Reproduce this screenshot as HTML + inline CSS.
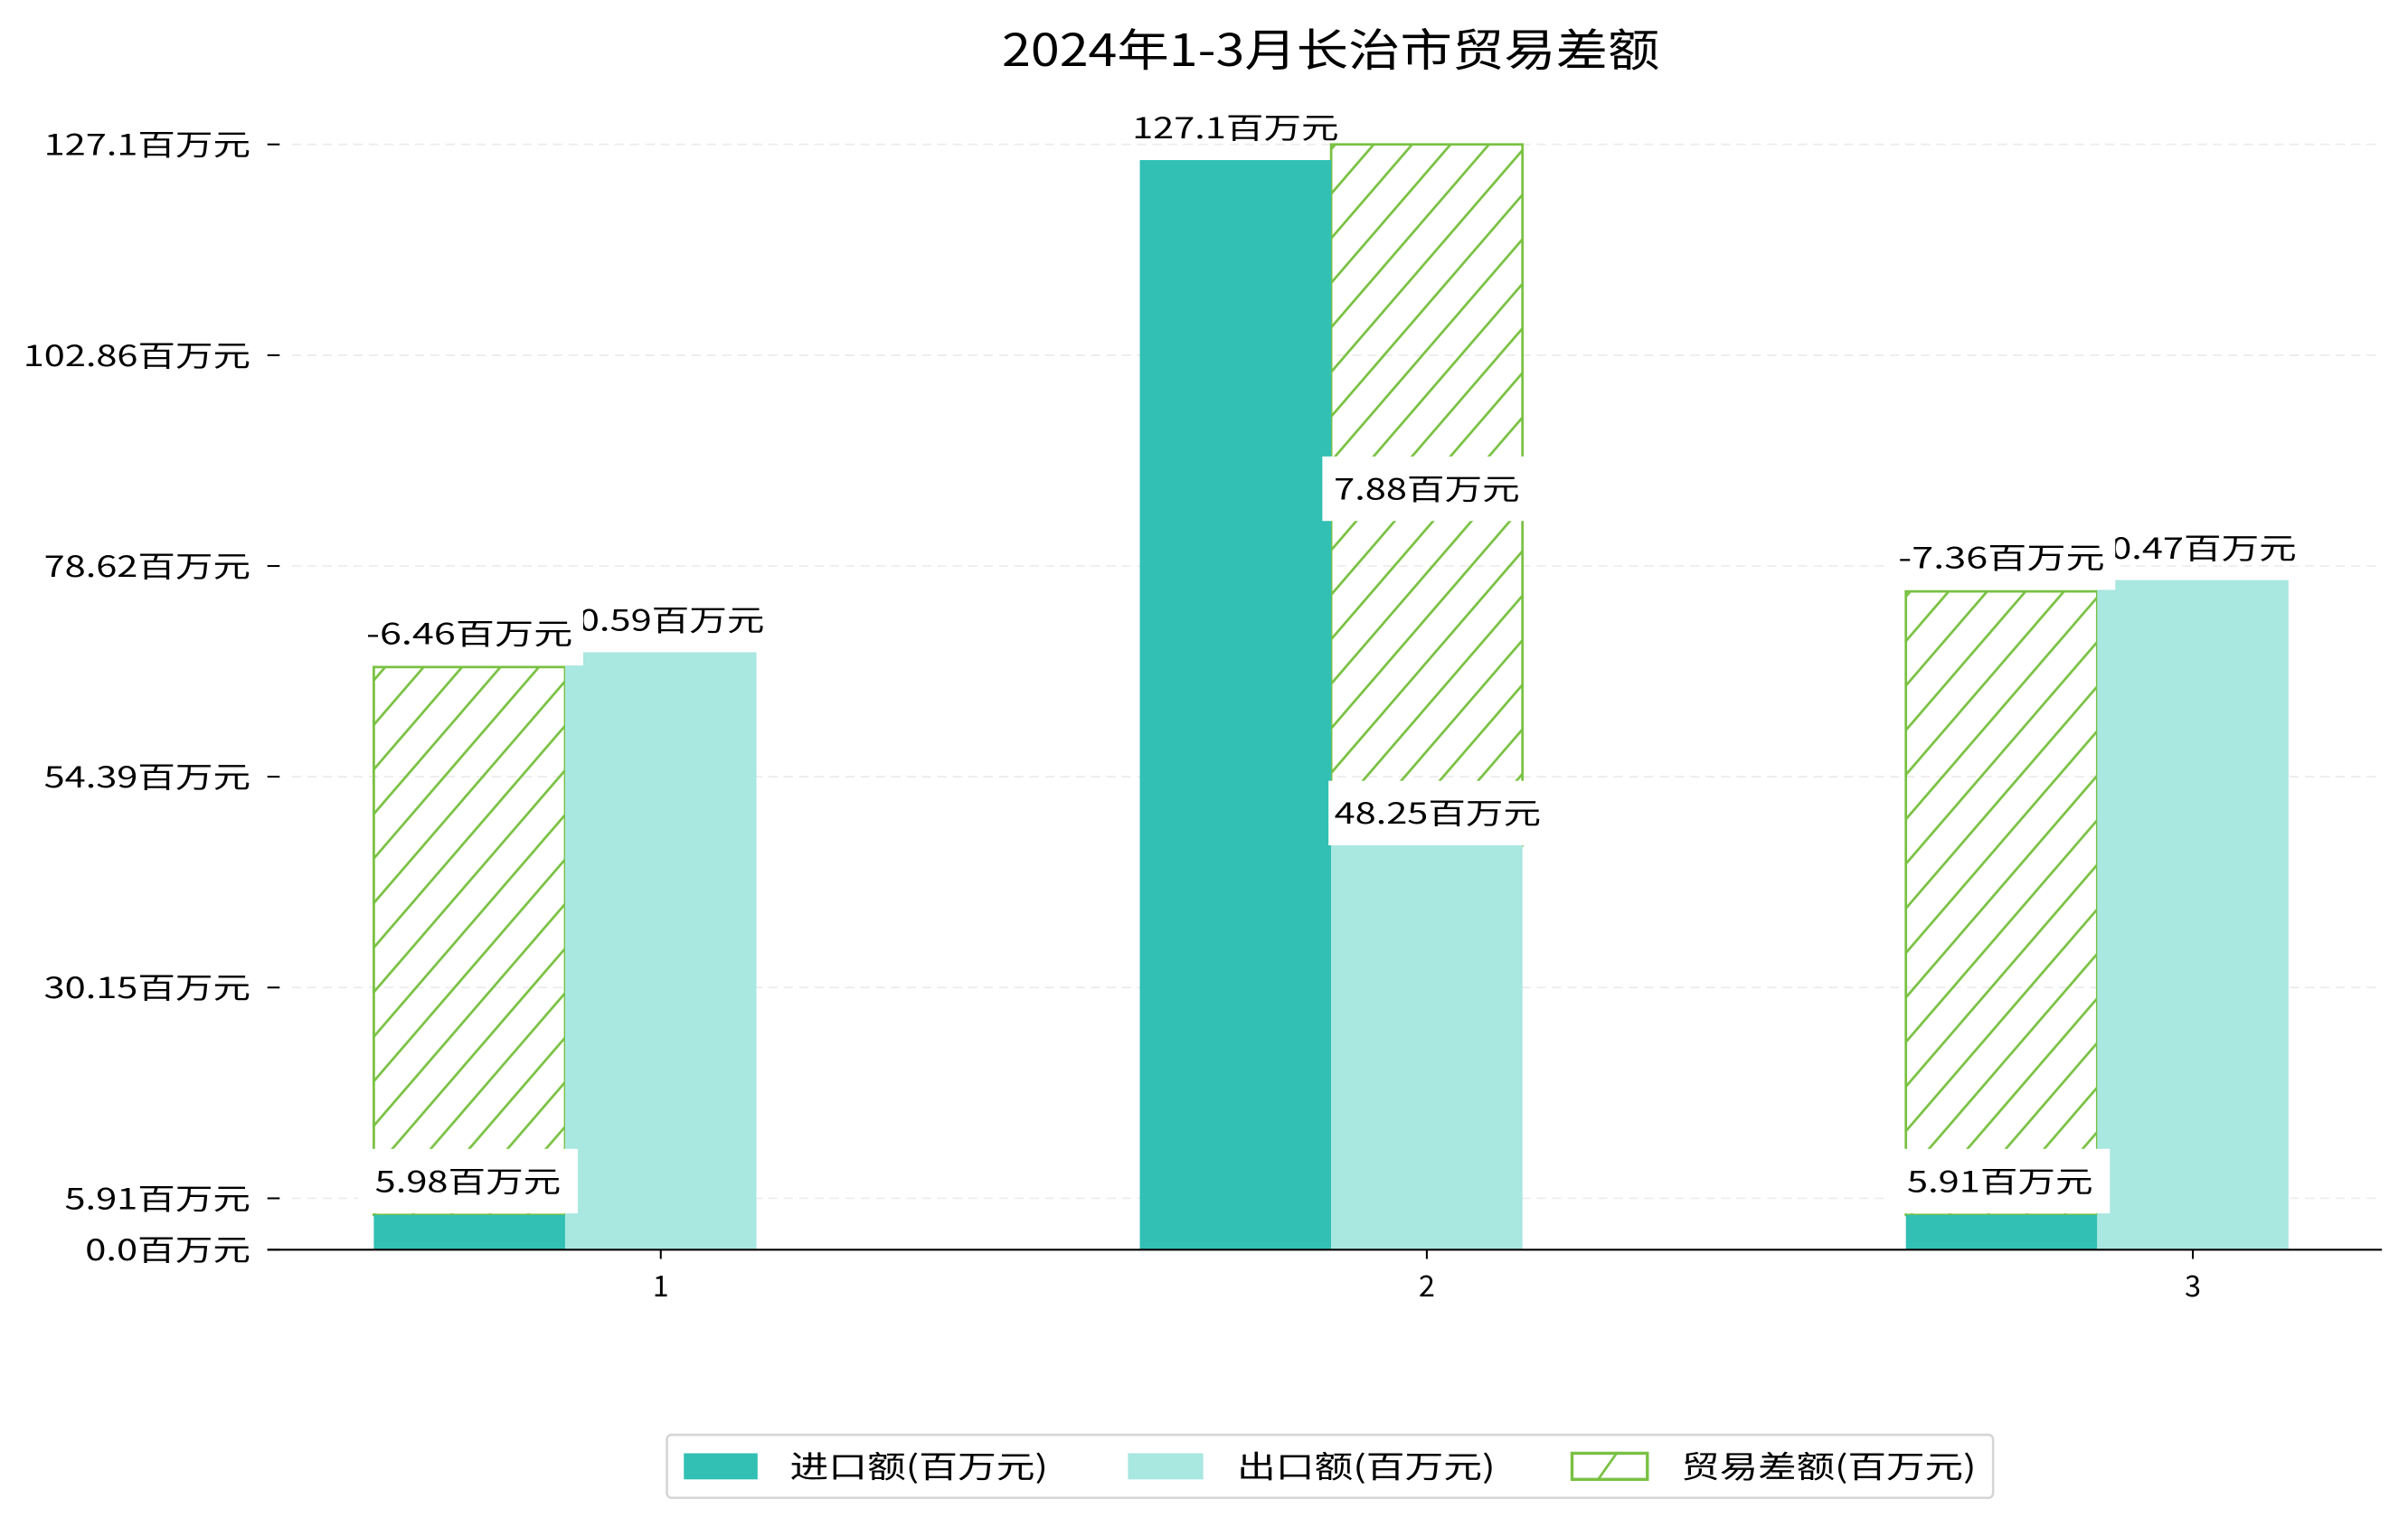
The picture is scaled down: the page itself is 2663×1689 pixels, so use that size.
<!DOCTYPE html>
<html><head><meta charset="utf-8"><style>
html,body{margin:0;padding:0;background:#fff;}
svg{display:block;}
text{font-family:"WenQuanYi Zen Hei","Noto Sans CJK SC",sans-serif;}
</style></head><body>
<svg id="chart" width="2663" height="1689" viewBox="0 0 1567 994" preserveAspectRatio="none" xmlns="http://www.w3.org/2000/svg">
<defs>
<pattern id="hatch" patternUnits="userSpaceOnUse" width="25" height="29">
<path d="M-2,31.3 L27,-2.3 M-2,2.3 L2,-2.3 M23,31.3 L27,26.7" stroke="#79c142" stroke-width="1.6"/>
</pattern>
</defs>
<text id="title" x="866" y="43" text-anchor="middle" font-size="29" textLength="428" lengthAdjust="spacingAndGlyphs">2024年1-3月长治市贸易差额</text>
<g id="grid"></g>
<g id="bars"></g>
<g id="labels"></g>
<line x1="174" y1="813.5" x2="1550" y2="813.5" stroke="#000" stroke-width="1.3"/>
<g>
<rect x="434" y="934" width="863" height="41" rx="3" fill="#fff" stroke="#d5d5d5" stroke-width="1.5"/>
<rect x="445" y="946" width="48" height="17" fill="#31c0b3"/>
<text x="514" y="962" font-size="20" textLength="168" lengthAdjust="spacingAndGlyphs">进口额(百万元)</text>
<rect x="734" y="946" width="49" height="17" fill="#a9e7e1"/>
<text x="805" y="962" font-size="20" textLength="168" lengthAdjust="spacingAndGlyphs">出口额(百万元)</text>
<rect x="1023" y="946" width="49" height="17" fill="#fff" stroke="#79c142" stroke-width="2"/>
<line x1="1040" y1="963" x2="1052" y2="946" stroke="#79c142" stroke-width="1.6"/>
<text x="1094" y="962" font-size="20" textLength="192" lengthAdjust="spacingAndGlyphs">贸易差额(百万元)</text>
</g>
</svg>
<script>
const categories = ["1", "2", "3"];
const importVals = [4.0, 125.3, 4.0];
const exportVals = [68.7, 46.5, 77.0];
const balanceTop = [67.0, 127.1, 75.7];
const balanceBase = [4.0, 46.5, 4.0];
const balanceOnImport = [true, false, true];
const tickVals = [0, 5.91, 30.15, 54.39, 78.62, 102.86, 127.1];
const tickLabels = ["0.0百万元", "5.91百万元", "30.15百万元", "54.39百万元", "78.62百万元", "102.86百万元", "127.1百万元"];
const importLabels = ["5.98百万元", "127.1百万元", "5.91百万元"];
const exportLabels = ["0.59百万元", "48.25百万元", "0.47百万元"];
const balanceLabels = ["-6.46百万元", "7.88百万元", "-7.36百万元"];

const NS = "http://www.w3.org/2000/svg";
const BASE = 813.5;
const y = v => BASE - v * ((BASE - 94) / 127.1);
const xc = i => 430 + i * 498.5;
const BW = 124.5;
function mk(tag, attrs, parent) {
  const e = document.createElementNS(NS, tag);
  for (const k in attrs) e.setAttribute(k, attrs[k]);
  parent.appendChild(e);
  return e;
}
function tw(s, em) {
  let w = 0;
  for (const ch of s) w += (ch.charCodeAt(0) < 256) ? 0.6 : 1.0;
  return w * em;
}
const grid = document.getElementById("grid");
const bars = document.getElementById("bars");
const labels = document.getElementById("labels");

tickVals.forEach((v, i) => {
  if (v > 0) {
    const g = mk("line", {x1: 190, x2: 1550, y1: y(v), y2: y(v), stroke: "#ececec", "stroke-dasharray": "6,4", "stroke-width": 1}, grid);
    
    
  }
  const t = mk("line", {x1: 174, x2: 182, y1: y(v), y2: y(v), stroke: "#000", "stroke-width": 1.2}, grid);
  
  
  const tl = mk("text", {x: 163, y: y(v) + 7, "text-anchor": "end", "font-size": 19, textLength: tw(tickLabels[i], 22.4), lengthAdjust: "spacingAndGlyphs"}, grid);
  tl.textContent = tickLabels[i];
  
  
});

function labelBox(cx, cy, txt, w, box) {
  if (box) {
    const r = mk("rect", {x: cx - w / 2, y: cy - 21, width: w, height: 42, fill: "#fff"}, labels);
    
    
  }
  const t = mk("text", {x: cx, y: cy + 7, "text-anchor": "middle", "font-size": 19, textLength: tw(txt, 22.4), lengthAdjust: "spacingAndGlyphs"}, labels);
  t.textContent = txt;
  
  
}

categories.forEach((c, i) => {
  const cx = xc(i);
  const xi = cx - 1.5 * BW, xe = cx - 0.5 * BW;
  const xb = balanceOnImport[i] ? xi : xe;
  const hb = mk("rect", {x: xb, y: y(balanceTop[i]), width: BW, height: y(balanceBase[i]) - y(balanceTop[i]), fill: "url(#hatch)", stroke: "#79c142", "stroke-width": 1.6}, bars);
  
  
  const ib = mk("rect", {x: xi, y: y(importVals[i]), width: BW, height: BASE - y(importVals[i]), fill: "#31c0b3"}, bars);
  
  
  const eb = mk("rect", {x: xe, y: y(exportVals[i]), width: BW, height: BASE - y(exportVals[i]), fill: "#a9e7e1"}, bars);
  
  
  const tk = mk("line", {x1: cx, x2: cx, y1: BASE, y2: BASE + 6, stroke: "#000", "stroke-width": 1.2}, bars);
  
  
  const xl = mk("text", {x: cx, y: 844, "text-anchor": "middle", "font-size": 19}, bars);
  xl.textContent = c;
  
  

  labelBox(xe + BW / 2 + 7, y(exportVals[i]) - 21, exportLabels[i], 142, i === 1);
  const by = (i === 1) ? (y(balanceTop[i]) + y(balanceBase[i])) / 2 - 4 : y(balanceTop[i]) - 22;
  labelBox(xb + BW / 2, by, balanceLabels[i], 136 + (balanceLabels[i][0] === '-' ? 12 : 0), true);
  if (i === 1) labelBox(xi + BW / 2, y(importVals[i]) - 21, importLabels[i], 142, false);
  else labelBox(xi + BW / 2 - 1, y(importVals[i]) - 22, importLabels[i], 143, true);
});
</script>
</body></html>
